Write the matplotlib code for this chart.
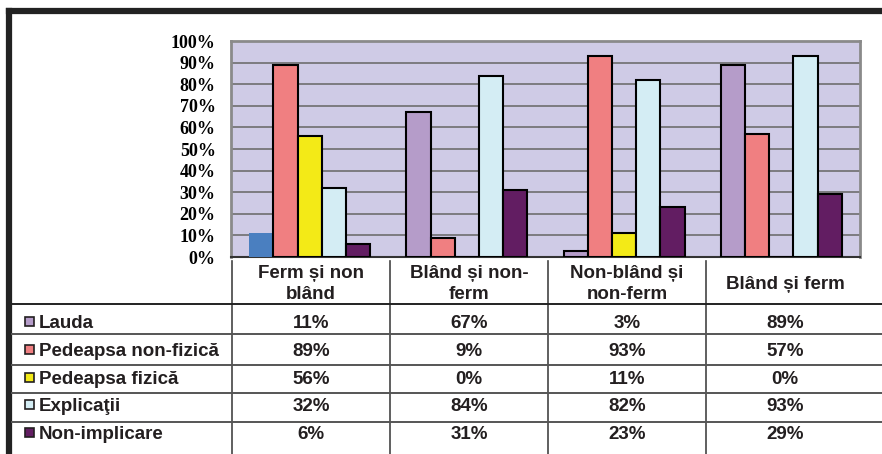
import matplotlib.pyplot as plt
from matplotlib.lines import Line2D
from matplotlib.patches import Rectangle

categories = ["Ferm și non\nblând", "Blând și non-\nferm", "Non-blând și\nnon-ferm", "Blând și ferm"]
series = ["Lauda", "Pedeapsa non-fizică", "Pedeapsa fizică", "Explicaţii", "Non-implicare"]
lauda = [11, 67, 3, 89]
pedeapsa_nonfizica = [89, 9, 93, 57]
pedeapsa_fizica = [56, 0, 11, 0]
explicatii = [32, 84, 82, 93]
non_implicare = [6, 31, 23, 29]
values = [lauda, pedeapsa_nonfizica, pedeapsa_fizica, explicatii, non_implicare]
colors = ["#b59cc9", "#f07f81", "#f3ea17", "#d4edf4", "#621d62"]

W, H = 882, 454
fig = plt.figure(figsize=(W / 100, H / 100), dpi=100)

# chart area, placed in pixels
left, top, right, bottom = 231, 41, 860, 257
ax = fig.add_axes([left / W, 1 - bottom / H, (right - left) / W, (bottom - top) / H])
ax.set_facecolor("#cfcbe6")

bw = 0.154
for i, (name, vals, col) in enumerate(zip(series, values, colors)):
    xs = [c + (i - 2) * bw for c in range(len(categories))]
    bars = ax.bar(xs, vals, width=bw, color=col, edgecolor="black", linewidth=1.5, zorder=3)
    if i == 0:
        # the first bar is drawn blue, without an outline, in the source
        bars[0].set_facecolor("#4a7fc0")
        bars[0].set_linewidth(0)

ax.set_xlim(-0.5, len(categories) - 0.5)
ax.set_ylim(0, 100)
ax.set_yticks(range(0, 101, 10))
ax.set_yticklabels([f"{v}%" for v in range(0, 101, 10)],
                   fontfamily="Liberation Serif", fontweight="bold", fontsize=13)
ax.tick_params(axis="y", length=0, pad=11)
ax.set_xticks([])
ax.grid(axis="y", color="#6e6e6e", linewidth=1.2, zorder=1)
ax.set_axisbelow(True)
for side in ["top", "left", "right"]:
    ax.spines[side].set_color("#8a8a8a")
    ax.spines[side].set_linewidth(2)
ax.spines["bottom"].set_color("#333333")
ax.spines["bottom"].set_linewidth(1.5)

# overlay in pixel coordinates for the frame and the data table
ov = fig.add_axes([0, 0, 1, 1], facecolor="none")
ov.set_xlim(0, W)
ov.set_ylim(H, 0)
ov.axis("off")

# outer frame
ov.add_line(Line2D([9, 9], [11, H], color="#222222", linewidth=4.5))
ov.add_line(Line2D([9, W], [11, 11], color="#222222", linewidth=4.5))

col_x = [232, 390, 548, 706]
col_w = 158
row_y = [304, 334, 365, 393, 422]
baselines = [328, 356, 384, 411, 439]

for x in col_x:
    ov.add_line(Line2D([x, x], [261, H], color="#444444", linewidth=1.2))
for j, y in enumerate(row_y):
    ov.add_line(Line2D([12, W], [y, y], color="#222222" if j == 0 else "#555555", linewidth=1.4))

tfont = dict(family="Liberation Sans", fontweight="bold", fontsize=13.5, color="#231f20")
for c, label in enumerate(categories):
    lines = label.split("\n")
    base = 289 if len(lines) == 1 else 278
    for k, line in enumerate(lines):
        ov.text(col_x[c] + col_w / 2, base + 21 * k, line, ha="center", va="baseline", **tfont)

for i, (name, vals, col) in enumerate(zip(series, values, colors)):
    ov.add_patch(Rectangle((25, baselines[i] - 11.5), 9, 9, facecolor=col,
                           edgecolor="#231f20", linewidth=1.2))
    ov.text(39, baselines[i], name, ha="left", va="baseline", **tfont)
    for c, v in enumerate(vals):
        ov.text(col_x[c] + col_w / 2, baselines[i], f"{v}%", ha="center", va="baseline", **tfont)

fig.savefig("out.png", dpi=100)
